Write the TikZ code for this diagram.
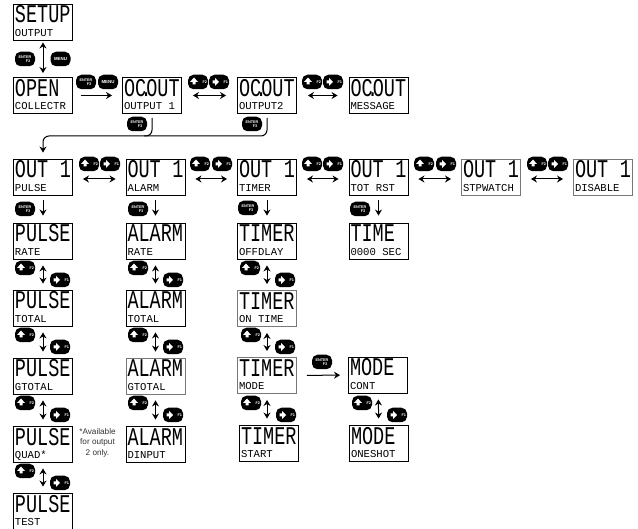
\documentclass[tikz,border=0pt]{standalone}
\usepackage{graphicx}
\usepackage{fontspec}
\setmainfont{Liberation Sans}
\setmonofont{Liberation Mono}
\usepackage{tikz}
\usetikzlibrary{calc,arrows.meta,positioning}
\definecolor{lcdgray}{HTML}{777777}
\definecolor{notegray}{HTML}{333333}
\newcommand{\lcdtext}[2]{\vbox{\hbox{\smash{\scalebox{1}[1.38]{\makebox[56pt][l]{\fontsize{18.5}{18.5}\selectfont\ttfamily #1}}}\rule{0pt}{19pt}}\kern1.5pt\hbox{\smash{\makebox[55pt][l]{\fontsize{10.6}{10.6}\selectfont\ttfamily #2}}\rule{0pt}{8pt}}\kern3.5pt}}
\newcommand{\dotgap}{\kern-5.5pt.\kern-5.5pt}
\tikzset{
  ar/.style={-{Stealth[length=6pt,width=7pt]},line width=1pt},
  arb/.style={{Stealth[length=6pt,width=7pt]}-{Stealth[length=6pt,width=7pt]},line width=1pt},
  lcd/.style={draw,line width=0.9pt,fill=white,minimum width=59pt,minimum height=32pt,inner sep=0pt,text=black},
  lcdg/.style={lcd,draw=lcdgray},
  keybtn/.style={fill=black,text=white,rounded corners=5.5pt,minimum width=20pt,minimum height=14.5pt,inner sep=0pt,font=\fontsize{3.8}{4}\selectfont\bfseries,align=center},
  fkey/.style={keybtn,text width=18pt,align=right},
  keyup/.style={fkey,path picture={\fill[white,sharp corners] ($(path picture bounding box.center)+(-5.5,2.5)$) -- ++(3,0) -- ++(0,-2.5) -- ++(2.5,0) -- ++(-4,-4.5) -- ++(-4,4.5) -- ++(2.5,0) -- cycle;}},
  keyright/.style={fkey,path picture={\fill[white,sharp corners] ($(path picture bounding box.center)+(-6.5,-1.5)$) -- ++(0,3) -- ++(2.5,0) -- ++(0,2.5) -- ++(4,-4) -- ++(-4,-4) -- ++(0,2.5) -- cycle;}}
}
\begin{document}
\begin{tikzpicture}[x=1pt,y=-1pt]
\useasboundingbox (0,0) rectangle (638,529);
% displays
\node[lcd] (setup) at (43,22) {\lcdtext{SETUP}{OUTPUT}};
\node[lcd] (open) at (43,95.5) {\lcdtext{OPEN}{COLLECTR}};
\node[lcd] (ocoutA) at (152,95.5) {\lcdtext{OC\dotgap OUT}{OUTPUT 1}};
\node[lcd] (ocoutB) at (267,95.5) {\lcdtext{OC\dotgap OUT}{OUTPUT2}};
\node[lcd] (ocoutC) at (378.5,95.5) {\lcdtext{OC\dotgap OUT}{MESSAGE}};
\node[lcd] (outPulse) at (43,177) {\lcdtext{OUT\hfill 1}{PULSE}};
\node[lcd] (outAlarm) at (155.5,177) {\lcdtext{OUT\hfill 1}{ALARM}};
\node[lcd] (outTimer) at (267,177) {\lcdtext{OUT\hfill 1}{TIMER}};
\node[lcd] (outTot) at (378.5,177) {\lcdtext{OUT\hfill 1}{TOT RST}};
\node[lcdg] (outStp) at (491,177) {\lcdtext{OUT\hfill 1}{STPWATCH}};
\node[lcdg] (outDis) at (603,177) {\lcdtext{OUT\hfill 1}{DISABLE}};
\node[lcd] (pulseRate) at (43,241) {\lcdtext{PULSE}{RATE}};
\node[lcd] (pulseTotal) at (43,308) {\lcdtext{PULSE}{TOTAL}};
\node[lcd] (pulseGtotal) at (43,376) {\lcdtext{PULSE}{GTOTAL}};
\node[lcd] (pulseQuad) at (43,444) {\lcdtext{PULSE}{QUAD*}};
\node[lcd] (pulseTest) at (43,511) {\lcdtext{PULSE}{TEST}};
\node[lcd] (alarmRate) at (155.5,241) {\lcdtext{ALARM}{RATE}};
\node[lcd] (alarmTotal) at (155.5,308) {\lcdtext{ALARM}{TOTAL}};
\node[lcdg] (alarmGtotal) at (155.5,376) {\lcdtext{ALARM}{GTOTAL}};
\node[lcd] (alarmDin) at (155.5,444) {\lcdtext{ALARM}{DINPUT}};
\node[lcd] (timerOff) at (267,241) {\lcdtext{TIMER}{OFFDLAY}};
\node[lcdg] (timerOn) at (267,308.5) {\lcdtext{TIMER}{ON TIME}};
\node[lcdg] (timerMode) at (267,375.5) {\lcdtext{TIMER}{MODE}};
\node[lcd] (timerStart) at (269,443) {\lcdtext{TIMER}{START}};
\node[lcd] (timeSec) at (378.5,241) {\lcdtext{TIME}{0000 SEC}};
\node[lcd] (modeCont) at (378,375) {\lcdtext{MODE}{CONT}};
\node[lcd] (modeOne) at (379,443) {\lcdtext{MODE}{ONESHOT}};
% keys
\foreach \x/\y [count=\i] in {25/59,86/82,137/124,252/124,25/209,138/209,248/208,360/209,322/362}{
  \node[keybtn] (enter\i) at (\x,\y) {ENTER\\\hspace*{6pt}F3};
}
\node[keybtn,font=\fontsize{4.4}{4.4}\selectfont\bfseries] (menuA) at (60.5,59) {MENU};
\node[keybtn,font=\fontsize{4.4}{4.4}\selectfont\bfseries] (menuB) at (108,82) {MENU};
\foreach \x/\y [count=\i] in {198/82,312/82,89/164,200/164,312/164,424/164,537/164,
    25/268,25/335,25/403,25/471,138/268,138/335,138/403,250/268,251/335,251/403,362/403}{
  \node[keyup] (up\i) at (\x,\y) {\raisebox{-3.5pt}{F2}};
}
\foreach \x/\y [count=\i] in {219/82,333/82,110/164,222/164,333/164,446/164,558/164,
    60/280,60/347,60/415,60/483,173/280,173/347,173/415,285/280,285/347,286/415,397/415}{
  \node[keyright] (right\i) at (\x,\y) {\raisebox{-3.5pt}{F1}};
}
% connectors
\draw[arb,shorten <=2pt,shorten >=4pt] (setup) -- (open);
\draw[ar,shorten <=8pt,shorten >=10pt] (open) -- (ocoutA);
\foreach \a/\b in {ocoutA/ocoutB,ocoutB/ocoutC}{
  \draw[arb,shorten <=11pt,shorten >=11pt] (\a) -- (\b);
}
\foreach \a/\b in {outPulse/outAlarm,outAlarm/outTimer,outTimer/outTot,outTot/outStp,outStp/outDis}{
  \draw[arb,shorten <=10pt,shorten >=10pt] ([yshift=-2pt]\a.east) -- ([yshift=-2pt]\b.west);
}
\foreach \a/\b in {outPulse/pulseRate,outAlarm/alarmRate,outTimer/timerOff,outTot/timeSec}{
  \draw[ar,shorten <=5pt,shorten >=7pt] (\a) -- (\b);
}
\foreach \a/\b in {pulseRate/pulseTotal,pulseTotal/pulseGtotal,pulseGtotal/pulseQuad,pulseQuad/pulseTest,
    alarmRate/alarmTotal,alarmTotal/alarmGtotal,alarmGtotal/alarmDin,
    timerOff/timerOn,timerOn/timerMode,modeCont/modeOne}{
  \draw[arb,shorten <=6pt,shorten >=6pt] (\a) -- (\b);
}
\draw[arb,shorten <=6pt,shorten >=6pt] (timerMode.south) -- (timerMode.south|-timerStart.north);
\draw[ar,shorten <=10pt,shorten >=8pt] (timerMode) -- (modeCont);
\coordinate (turn) at (267,136);
\draw[ar,rounded corners=6pt,shorten >=6pt] ([yshift=-4pt]ocoutB.south) -- (turn) -| (outPulse.north);
\draw[line width=1pt,rounded corners=6pt] ([yshift=-4pt]ocoutA.south) |- ($(ocoutA.south|-turn)+(-8,0)$);
% note
\node[font=\fontsize{8.2}{10.6}\selectfont,text=notegray,align=center,inner sep=0pt] (note) at (97.5,442.5) {*Available\\for output\\2 only.};
\end{tikzpicture}
\end{document}
